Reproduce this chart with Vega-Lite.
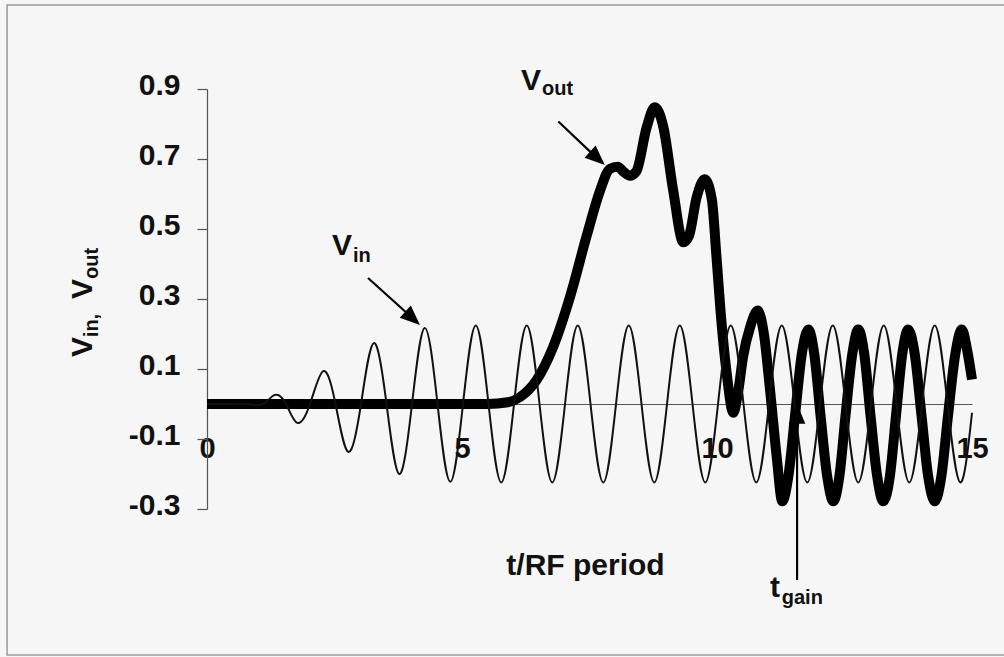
{
  "$schema": "https://vega.github.io/schema/vega-lite/v6.json",
  "width": 765,
  "height": 420,
  "autosize": {"type": "none"},
  "padding": {"left": 207, "top": 89, "right": 32, "bottom": 148},
  "background": "#f6f6f6",
  "config": {"view": {"stroke": null}, "font": "Liberation Sans"},
  "datasets": {
    "vin": [
      {"t": 0, "v": 0}, {"t": 0.4, "v": 0}, {"t": 0.8, "v": 0}, {"t": 1.1, "v": 0},
      {"t": 1.33, "v": 0.026}, {"t": 1.55, "v": 0}, {"t": 1.77, "v": -0.054},
      {"t": 2.02, "v": 0}, {"t": 2.28, "v": 0.094}, {"t": 2.52, "v": 0}, {"t": 2.77, "v": -0.137},
      {"t": 3.02, "v": 0}, {"t": 3.27, "v": 0.174}, {"t": 3.52, "v": 0}, {"t": 3.77, "v": -0.2},
      {"t": 4.02, "v": 0}, {"t": 4.27, "v": 0.217}, {"t": 4.52, "v": 0}, {"t": 4.77, "v": -0.222},
      {"t": 5.02, "v": 0}, {"t": 5.27, "v": 0.224}, {"t": 5.52, "v": 0}, {"t": 5.77, "v": -0.224},
      {"t": 6.02, "v": 0}, {"t": 6.27, "v": 0.224}, {"t": 6.52, "v": 0}, {"t": 6.77, "v": -0.224},
      {"t": 7.02, "v": 0}, {"t": 7.27, "v": 0.224}, {"t": 7.52, "v": 0}, {"t": 7.77, "v": -0.224},
      {"t": 8.02, "v": 0}, {"t": 8.27, "v": 0.224}, {"t": 8.52, "v": 0}, {"t": 8.77, "v": -0.224},
      {"t": 9.02, "v": 0}, {"t": 9.27, "v": 0.224}, {"t": 9.52, "v": 0}, {"t": 9.77, "v": -0.224},
      {"t": 10.02, "v": 0}, {"t": 10.27, "v": 0.224}, {"t": 10.52, "v": 0}, {"t": 10.77, "v": -0.224},
      {"t": 11.02, "v": 0}, {"t": 11.27, "v": 0.224}, {"t": 11.52, "v": 0}, {"t": 11.77, "v": -0.224},
      {"t": 12.02, "v": 0}, {"t": 12.27, "v": 0.224}, {"t": 12.52, "v": 0}, {"t": 12.77, "v": -0.224},
      {"t": 13.02, "v": 0}, {"t": 13.27, "v": 0.224}, {"t": 13.52, "v": 0}, {"t": 13.77, "v": -0.224},
      {"t": 14.02, "v": 0}, {"t": 14.27, "v": 0.224}, {"t": 14.52, "v": 0}, {"t": 14.77, "v": -0.224},
      {"t": 15.0, "v": -0.025}
    ],
    "vout": [
      {"t": 0, "v": 0}, {"t": 2, "v": 0}, {"t": 4, "v": 0}, {"t": 5.5, "v": 0},
      {"t": 5.9, "v": 0.005}, {"t": 6.14, "v": 0.02}, {"t": 6.46, "v": 0.068}, {"t": 6.79, "v": 0.164},
      {"t": 7.12, "v": 0.307}, {"t": 7.44, "v": 0.478}, {"t": 7.71, "v": 0.611}, {"t": 7.9, "v": 0.672},
      {"t": 8.05, "v": 0.678}, {"t": 8.18, "v": 0.662}, {"t": 8.29, "v": 0.652}, {"t": 8.42, "v": 0.665},
      {"t": 8.62, "v": 0.79}, {"t": 8.78, "v": 0.848}, {"t": 8.95, "v": 0.79}, {"t": 9.14, "v": 0.611},
      {"t": 9.34, "v": 0.462}, {"t": 9.45, "v": 0.48}, {"t": 9.6, "v": 0.59}, {"t": 9.76, "v": 0.642},
      {"t": 9.9, "v": 0.583}, {"t": 9.99, "v": 0.42}, {"t": 10.09, "v": 0.23}, {"t": 10.19, "v": 0.088},
      {"t": 10.32, "v": -0.025}, {"t": 10.42, "v": 0.04}, {"t": 10.51, "v": 0.134}, {"t": 10.65, "v": 0.22},
      {"t": 10.8, "v": 0.267}, {"t": 10.92, "v": 0.2}, {"t": 11.04, "v": 0.04}, {"t": 11.17, "v": -0.15},
      {"t": 11.28, "v": -0.278}, {"t": 11.4, "v": -0.206}, {"t": 11.53, "v": -0.033}, {"t": 11.66, "v": 0.14},
      {"t": 11.79, "v": 0.213}, {"t": 11.91, "v": 0.14}, {"t": 12.03, "v": -0.033}, {"t": 12.16, "v": -0.206},
      {"t": 12.28, "v": -0.278}, {"t": 12.4, "v": -0.206}, {"t": 12.52, "v": -0.033}, {"t": 12.65, "v": 0.14},
      {"t": 12.77, "v": 0.213}, {"t": 12.89, "v": 0.14}, {"t": 13.01, "v": -0.033}, {"t": 13.14, "v": -0.206},
      {"t": 13.26, "v": -0.278}, {"t": 13.39, "v": -0.206}, {"t": 13.51, "v": -0.033}, {"t": 13.63, "v": 0.14},
      {"t": 13.75, "v": 0.213}, {"t": 13.88, "v": 0.14}, {"t": 14.01, "v": -0.033}, {"t": 14.14, "v": -0.206},
      {"t": 14.27, "v": -0.278}, {"t": 14.4, "v": -0.206}, {"t": 14.53, "v": -0.033}, {"t": 14.67, "v": 0.14},
      {"t": 14.8, "v": 0.213}, {"t": 14.91, "v": 0.15}, {"t": 15.0, "v": 0.07}
    ],
    "shafts": [
      {"t": 3.157, "v": 0.36, "t2": 3.973, "v2": 0.253},
      {"t": 6.889, "v": 0.807, "t2": 7.6, "v2": 0.709},
      {"t": 11.57, "v": -0.503, "t2": 11.57, "v2": -0.04}
    ],
    "headsDiag": [
      {"t": 4.176, "v": 0.226},
      {"t": 7.80, "v": 0.683}
    ],
    "headsUp": [
      {"t": 11.57, "v": 0.0}
    ],
    "bigText": [
      {"t": 2.451, "v": 0.426, "label": "V"},
      {"t": 6.157, "v": 0.897, "label": "V"},
      {"t": 11.04, "v": -0.551, "label": "t"}
    ],
    "subText": [
      {"t": 2.863, "v": 0.406, "label": "in"},
      {"t": 6.569, "v": 0.883, "label": "out"},
      {"t": 11.27, "v": -0.57, "label": "gain"}
    ],
    "yTitleBig": [
      {"t": -2.255, "v": 0.134, "label": "V"},
      {"t": -2.255, "v": 0.3, "label": "V"}
    ],
    "yTitleSub": [
      {"t": -2.137, "v": 0.191, "label": "in,"},
      {"t": -2.137, "v": 0.357, "label": "out"}
    ],
    "frame": [
      {"t": -3.92, "v": 1.14, "t2": 15.8, "v2": -0.717}
    ]
  },
  "encoding": {
    "x": {
      "field": "t", "type": "quantitative",
      "scale": {"domain": [0, 15], "nice": false, "zero": false},
      "axis": {
        "offset": -105, "values": [0, 5, 10, 15], "ticks": false, "tickSize": 0,
        "grid": false, "domainColor": "#555", "domainWidth": 1.2,
        "labelFont": "Liberation Sans", "labelFontWeight": "bold", "labelFontSize": 29,
        "labelColor": "#111", "labelPadding": 30, "labelFlush": false, "labelOverlap": false,
        "title": "t/RF period", "titleFont": "Liberation Sans", "titleFontWeight": "bold",
        "titleFontSize": 30, "titleColor": "#111", "titleX": 378, "titleY": 170,
        "titleAlign": "center", "titleBaseline": "alphabetic"
      }
    },
    "y": {
      "field": "v", "type": "quantitative",
      "scale": {"domain": [-0.3, 0.9], "nice": false, "zero": false},
      "axis": {
        "values": [-0.3, -0.1, 0.1, 0.3, 0.5, 0.7, 0.9], "grid": false,
        "domainColor": "#555", "domainWidth": 1.2, "tickColor": "#555", "tickWidth": 1.2, "tickSize": 10,
        "labelFont": "Liberation Sans", "labelFontWeight": "bold", "labelFontSize": 30,
        "labelColor": "#111", "labelPadding": 17, "labelOffset": -3.5, "labelFlush": false, "labelOverlap": false,
        "labelExpr": "(datum.value < 0 ? '-' : '') + format(abs(datum.value), '.1f')",
        "title": null
      }
    }
  },
  "layer": [
    {
      "data": {"name": "frame"},
      "mark": {"type": "rect", "fill": "transparent", "stroke": "#9a9a9a", "strokeWidth": 1.5},
      "encoding": {"x2": {"field": "t2"}, "y2": {"field": "v2"}}
    },
    {
      "data": {"name": "vout"},
      "mark": {"type": "line", "interpolate": "monotone", "color": "#000", "strokeWidth": 10, "strokeJoin": "round"},
      "encoding": {}
    },
    {
      "data": {"name": "vin"},
      "mark": {"type": "line", "interpolate": "natural", "color": "#111", "strokeWidth": 2},
      "encoding": {}
    },
    {
      "data": {"name": "shafts"},
      "mark": {"type": "rule", "color": "#000", "strokeWidth": 2.2},
      "encoding": {"x2": {"field": "t2"}, "y2": {"field": "v2"}}
    },
    {
      "data": {"name": "headsDiag"},
      "mark": {"type": "point", "shape": "M0,0L-0.5,1.2L0.5,1.2Z", "size": 1089, "filled": true, "color": "#000", "opacity": 1, "angle": 132},
      "encoding": {}
    },
    {
      "data": {"name": "headsUp"},
      "mark": {"type": "point", "shape": "M0,0L-0.5,1.2L0.5,1.2Z", "size": 1089, "filled": true, "color": "#000", "opacity": 1, "angle": 0},
      "encoding": {}
    },
    {
      "data": {"name": "bigText"},
      "mark": {"type": "text", "align": "left", "baseline": "alphabetic", "font": "Liberation Sans", "fontWeight": "bold", "fontSize": 30, "color": "#111"},
      "encoding": {"text": {"field": "label"}}
    },
    {
      "data": {"name": "subText"},
      "mark": {"type": "text", "align": "left", "baseline": "alphabetic", "font": "Liberation Sans", "fontWeight": "bold", "fontSize": 20, "color": "#111"},
      "encoding": {"text": {"field": "label"}}
    },
    {
      "data": {"name": "yTitleBig"},
      "mark": {"type": "text", "align": "left", "baseline": "alphabetic", "angle": 270, "font": "Liberation Sans", "fontWeight": "bold", "fontSize": 30, "color": "#111"},
      "encoding": {"text": {"field": "label"}}
    },
    {
      "data": {"name": "yTitleSub"},
      "mark": {"type": "text", "align": "left", "baseline": "alphabetic", "angle": 270, "font": "Liberation Sans", "fontWeight": "bold", "fontSize": 20, "color": "#111"},
      "encoding": {"text": {"field": "label"}}
    }
  ]
}
